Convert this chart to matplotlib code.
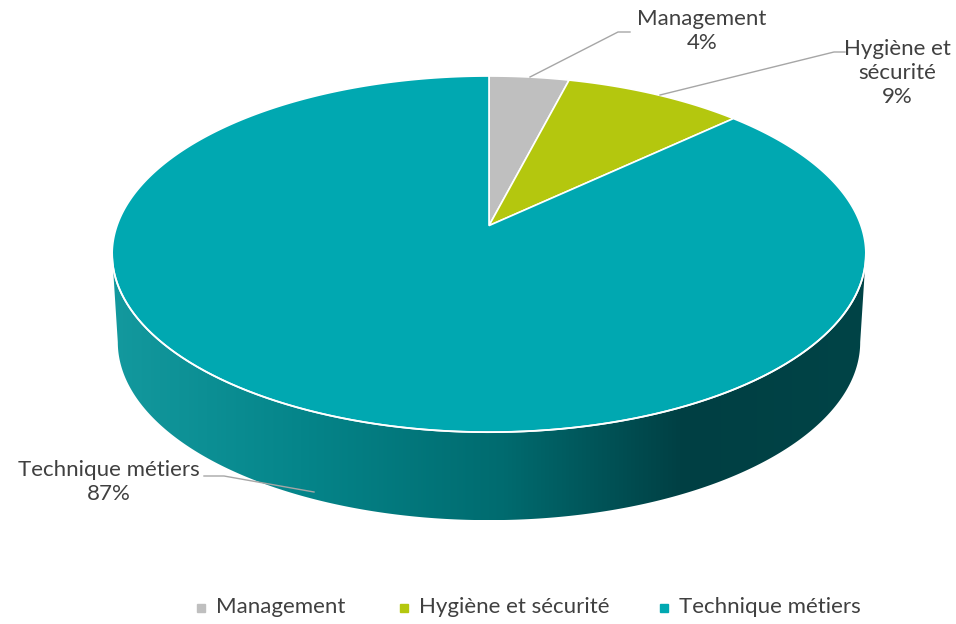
import numpy as np
import matplotlib.pyplot as plt
from matplotlib.patches import Polygon
from matplotlib.colors import LinearSegmentedColormap

# data
categories = ["Management", "Hygiène et sécurité", "Technique métiers"]
values = [4, 9, 87]
labels = ["Management\n4%", "Hygiène et\nsécurité\n9%", "Technique métiers\n87%"]
colors = ["#BFBFBF", "#B4C70E", "#00A8B1"]

plt.rcParams['font.family'] = ['Lato', 'DejaVu Sans']
text_color = "#404040"
fs = 16

fig = plt.figure(figsize=(9.56, 6.24), dpi=100)
ax = fig.add_axes([0, 0, 1, 1])
ax.set_xlim(0, 956)
ax.set_ylim(624, 0)
ax.axis("off")

# pie geometry (pixels), tilted disc seen with a bit of perspective
cx, cy0 = 489, 225.6
A, B = 372, 173.5
k = 0.16
depth = 88

def proj(t, sx=1.0, dy=0.0):
    u, v = np.sin(t), np.cos(t)
    w = 1 + k * v
    return cx + sx * A * u / w, cy0 - B * v / w + dy

# side wall (front part of the disc, only Technique is visible)
ts = np.arccos(-k)
t = np.linspace(ts, 2 * np.pi - ts, 300)
xs, ys = proj(t)
xb, yb = proj(t, sx=0.985, dy=depth)
side = np.concatenate([np.c_[xs, ys], np.c_[xb[::-1], yb[::-1]]])
side_patch = Polygon(side, closed=True, facecolor="none", edgecolor="none")
ax.add_patch(side_patch)
cmap = LinearSegmentedColormap.from_list(
    "side", [(0, "#13999E"), (0.25, "#05858A"), (0.52, "#006B6F"),
             (0.76, "#003F43"), (1, "#004447")])
grad = np.linspace(0, 1, 256).reshape(1, -1)
im = ax.imshow(grad, cmap=cmap, aspect="auto",
               extent=[xs.min(), xs.max(), yb.max(), ys.min()], zorder=1)
im.set_clip_path(side_patch)

# top wedges, clockwise from 12 o'clock
fracs = np.array(values) / np.sum(values)
starts = np.concatenate([[0], np.cumsum(fracs)[:-1]]) * 2 * np.pi
ends = np.cumsum(fracs) * 2 * np.pi
centre = proj(np.array([0.0]))
cpt = [cx, cy0]  # projected centre of the disc
for s, e, c in zip(starts, ends, colors):
    tt = np.linspace(s, e, 400)
    wx, wy = proj(tt)
    pts = np.vstack([cpt, np.c_[wx, wy]])
    ax.add_patch(Polygon(pts, closed=True, facecolor=c, edgecolor="white",
                         linewidth=1.2, zorder=2))

# white rim on the front edge
ax.plot(xs, ys, color="white", linewidth=1.3, zorder=3)

# labels and leader lines
ax.text(702, 31, labels[0], ha="center", va="center", fontsize=fs,
        color=text_color, linespacing=1.2)
ax.plot([530, 618, 630], [77, 32, 32], color="#A6A6A6", linewidth=1, zorder=4)

ax.text(897, 73, labels[1], ha="center", va="center", fontsize=fs,
        color=text_color, linespacing=1.25)
ax.plot([660, 834, 845], [95, 52, 52], color="#A6A6A6", linewidth=1, zorder=4)

ax.text(109, 482, labels[2], ha="center", va="center", fontsize=fs,
        color=text_color, linespacing=1.2)
ax.plot([204, 224, 314], [476, 476, 492], color="#A6A6A6", linewidth=1, zorder=4)

# legend
leg_x = [201, 404, 664]
for x, c, name in zip(leg_x, colors, categories):
    ax.plot(x, 608, marker="s", markersize=5.5, color=c, linestyle="none")
    ax.text(x + 15, 607, name, ha="left", va="center", fontsize=fs,
            color=text_color)

fig.savefig("out.png", dpi=100)
